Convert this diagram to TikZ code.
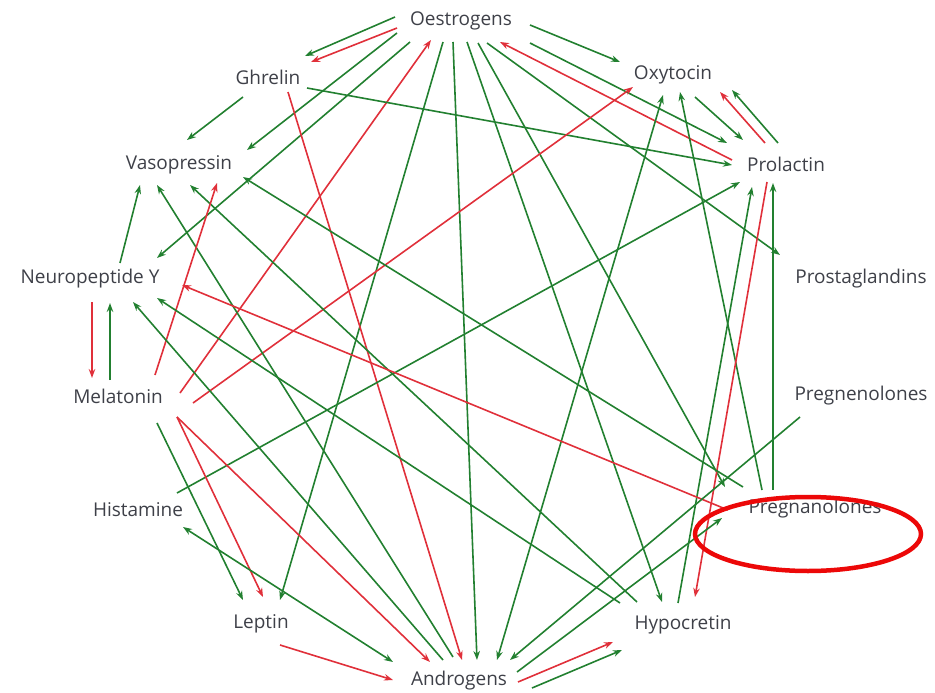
\documentclass[tikz,border=0pt]{standalone}
\usepackage{fontspec}
\setmainfont{Open Sans}
\usetikzlibrary{arrows.meta}
\definecolor{lg}{RGB}{34,128,48}
\definecolor{lr}{RGB}{224,48,58}
\definecolor{txt}{RGB}{62,64,72}
\definecolor{ring}{RGB}{236,8,8}
\tikzset{
  lbl/.style={inner sep=0pt, text=txt, font=\fontsize{19}{22}\selectfont},
  g/.style={draw=lg, line width=1.6pt, -{Stealth[length=9pt,width=6.5pt]}},
  r/.style={draw=lr, line width=1.6pt, -{Stealth[length=9pt,width=6.5pt]}},
  gg/.style={draw=lg, line width=1.6pt, {Stealth[length=9pt,width=6.5pt]}-{Stealth[length=9pt,width=6.5pt]}},
}
\newcommand{\E}[5]{\draw[#1] ([shift={(#3)}]#2.center) -- ([shift={(#5)}]#4.center);}
\begin{document}
\begin{tikzpicture}[x=1pt,y=-1pt]
\useasboundingbox (0,0) rectangle (935,693);
\node[lbl] (oes) at (461,21) {Oestrogens};
\node[lbl] (ghr) at (268,77) {Ghrelin};
\node[lbl] (oxy) at (673,75) {Oxytocin};
\node[lbl] (vas) at (179,165) {Vasopressin};
\node[lbl] (pro) at (786,164) {Prolactin};
\node[lbl] (npy) at (90,279) {Neuropeptide Y};
\node[lbl] (pgl) at (861,279) {Prostaglandins};
\node[lbl] (mel) at (118,396) {Melatonin};
\node[lbl] (pgn) at (861,396) {Pregnenolones};
\node[lbl] (his) at (138,510) {Histamine};
\node[lbl] (pga) at (815,509) {Pregnanolones};
\node[lbl] (lep) at (261,624) {Leptin};
\node[lbl] (hyp) at (683,625) {Hypocretin};
\node[lbl] (and) at (459,681) {Androgens};
% connectors
\E{g}{oes}{-66,-4}{ghr}{37,-21}
\E{r}{oes}{-64,7}{ghr}{43,-15}
\E{g}{oes}{-64,12}{vas}{68,-15}
\E{g}{oes}{-51,21}{npy}{67,-21}
\E{r}{mel}{62,-3}{oes}{-30,19}
\E{g}{oes}{69,4}{oxy}{-53,-13}
\E{g}{oes}{69,22}{pro}{-59,-21}
\E{r}{pro}{-54,-4}{oes}{39,21}
\E{g}{oes}{26,22}{pgl}{-81,-24}
\E{g}{oes}{17,22}{pga}{-90,-22}
\E{g}{oes}{6,21}{hyp}{-21,-23}
\E{g}{oes}{-8,21}{and}{18,-21}
\E{g}{oes}{-18,21}{lep}{19,-24}
\E{g}{ghr}{-25,20}{vas}{8,-25}
\E{g}{ghr}{39,11}{pro}{-54,1}
\E{r}{ghr}{20,15}{and}{3,-21}
\E{g}{oxy}{22,22}{pro}{-43,-24}
\E{r}{pro}{-21,-21}{oxy}{47,17}
\E{g}{pro}{-8,-21}{oxy}{59,15}
\E{r}{mel}{75,7}{oxy}{-40,12}
\E{gg}{oxy}{-10,20}{and}{38,-21}
\E{g}{pga}{-53,-19}{oxy}{7,17}
\E{g}{his}{39,-17}{pro}{-46,18}
\E{g}{hyp}{-5,-22}{pro}{-34,23}
\E{g}{pga}{-42,-19}{pro}{-13,19}
\E{r}{pro}{-19,18}{hyp}{12,-28}
\E{g}{npy}{30,-16}{vas}{-39,20}
\E{g}{and}{-6,-24}{vas}{-22,20}
\E{g}{hyp}{-46,-23}{vas}{11,20}
\E{r}{mel}{37,-21}{vas}{38,18}
\E{g}{pga}{-72,-22}{vas}{64,12}
\E{g}{and}{-16,-21}{npy}{43,23}
\E{g}{hyp}{-63,-22}{npy}{67,19}
\E{r}{pga}{-87,1}{npy}{92,6}
\E{r}{npy}{2,23}{mel}{-26,-18}
\E{g}{mel}{-8,-16}{npy}{20,24}
\E{g}{mel}{39,27}{lep}{-18,-24}
\E{r}{mel}{59,21}{lep}{2,-27}
\E{r}{mel}{59,21}{and}{-29,-19}
\E{gg}{his}{45,17}{and}{-66,-19}
\E{r}{lep}{19,21}{and}{-66,-1}
\E{g}{pgn}{-61,21}{and}{51,-21}
\E{g}{and}{58,-9}{pga}{-93,9}
\E{r}{and}{59,1}{hyp}{-70,17}
\E{g}{and}{73,7}{hyp}{-61,25}
% highlight ring
\draw[ring, line width=4.5pt] (808,534) ellipse [x radius=113, y radius=37];
\end{tikzpicture}
\end{document}
